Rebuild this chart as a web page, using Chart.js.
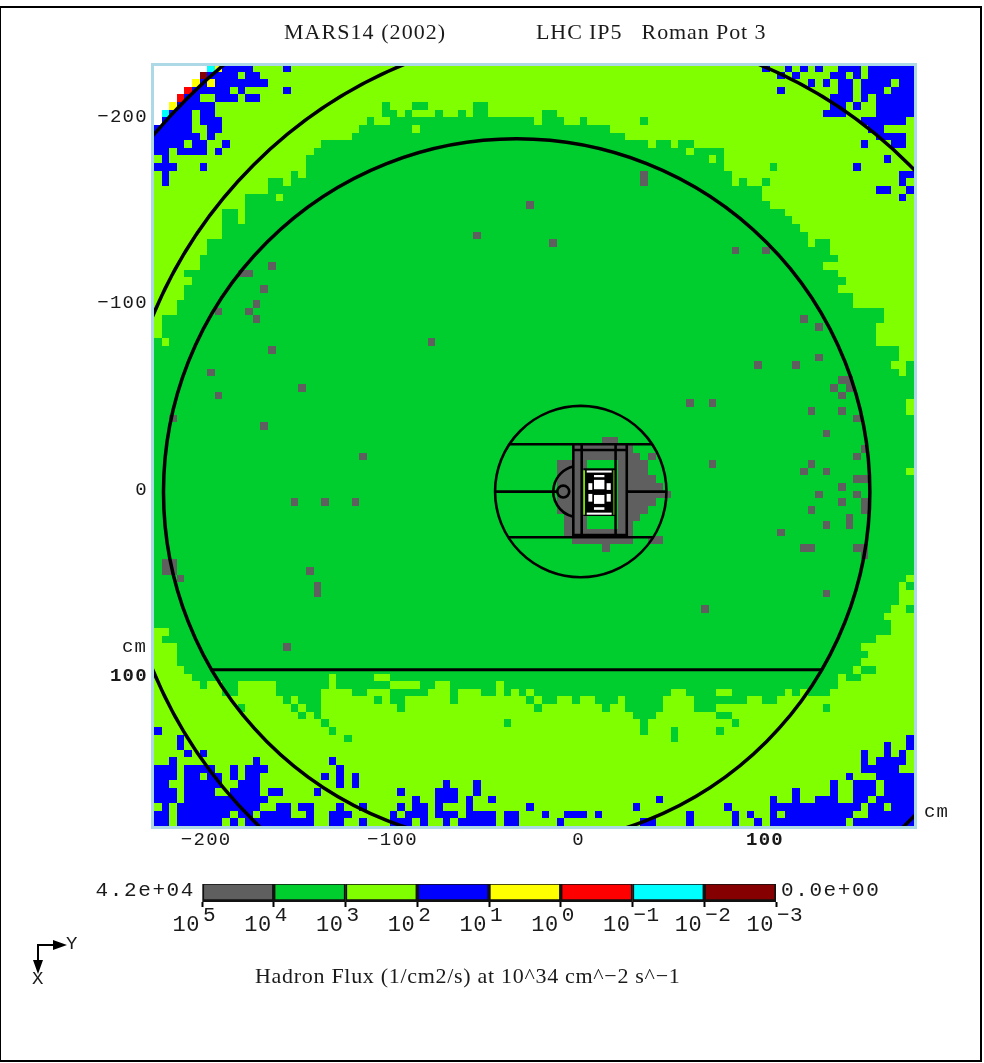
<!DOCTYPE html>
<html>
<head>
<meta charset="utf-8">
<title>MARS14 hadron flux</title>
<script src="https://cdn.jsdelivr.net/npm/chart.js@4"></script>
<style>
  html, body { margin: 0; background: #fff; }
  #wrap { position: relative; width: 984px; height: 1063px; overflow: hidden; }
  canvas { position: absolute; left: 0; display: block; }
</style>
</head>
<body>
<div id="wrap">
  <canvas id="map" width="984" height="1063" style="top:0"></canvas>
  <canvas id="bar" width="984" height="80" style="top:860px"></canvas>
</div>
<script>
// flux bins of the colour bar, high to low
const binExponents = ["5", "4", "3", "2", "1", "0", "\u22121", "\u22122", "\u22123"];
const binColors = ["#5f5f5f", "#00cd2e", "#7fff00", "#0000ff", "#ffff00", "#ff0000", "#00ffff", "#850000"];
const axisTicks = [-200, -100, 0, 100];

// grid is 100 x 100 bins, everything not listed is the 10^2-10^3 bin
// each entry is one row from the top: columns as "from-to,..."
const midRows = [
  "", "", "", "", "",
  "30,34-35,42-43",
  "30-31,33,37,40,42-43,51-52",
  "28,31-49,51-53,56,64",
  "27-33,35-59",
  "26-61",
  "22-64,66-67,69-70",
  "21-69,71-74",
  "20-72,74",
  "20-74,81",
  "18,20-75",
  "15-16,18-75,77,80",
  "15-79",
  "12-15,17-79",
  "12-80",
  "9-10,12-82",
  "9-10,12-83",
  "9-84",
  "9-85",
  "7-85,87-88",
  "7-88",
  "6-89",
  "6-87",
  "4-89",
  "5-90",
  "4-89",
  "4-91",
  "3-91",
  "3-95",
  "1-95",
  "1-94",
  "1-94",
  "0,2-94",
  "0-97",
  "0-97",
  "0-96,99",
  "0-97,99",
  "0-99", "0-99", "0-99",
  "0-98", "0-98",
  "0-99", "0-99", "0-99", "0-99", "0-99", "0-99", "0-99",
  "0-98",
  "0-99", "0-99", "0-99", "0-99", "0-99", "0-99", "0-99",
  "0-99", "0-99", "0-99", "0-99", "0-99", "0-99",
  "0-98",
  "0-97,99",
  "0-97",
  "0-97",
  "0-96,99",
  "0-95",
  "0-96",
  "2-96",
  "1-94",
  "3-92",
  "3-93",
  "3-92",
  "4-91,93-94",
  "5-22,24-28,31-89,91-92",
  "6,9-10,16-22,24-30,35-36,39-44,46-89",
  "9-10,16-21,26-27,31-35,39,43-44,46,48,50-67,70-73,76-82,84,86-88",
  "17,19-21,29,31-32,39,49,51-52,55,58-60,62-66,71-77,80-81",
  "11,18,20-21,32,50,59,62-66,71-73,88",
  "19,21,63-65,74-75",
  "22,46,64,76",
  "23,64,68,74",
  "25,68",
  "", "", "", "", "", "", "", "", "", "", ""
];

const lowCells = [
  [0, "9-12,17,80,83,85,87,90-92,94-99"],
  [1, "7-10,12-13,82,84,89-90,92,94-99"],
  [2, "6,8-14,86,88,90-91,93-96,98-99"],
  [3, "5-9,11,17,82,90-91,93-95,97-99"],
  [4, "4-5,8-10,12-13,89-91,93,95-99"],
  [5, "3-7,89-90,92,95-99"],
  [6, "2-4,6-7,88-90,95-99"],
  [7, "1-4,6-8,93-98"],
  [8, "0-4,7-8,94-95"],
  [9, "0-5,7,95-98"],
  [10, "0-3,5-6,9,93,97-98"],
  [11, "0-1,3-6,8"],
  [12, "1,96"],
  [13, "0-2,6,92"],
  [14, "1,98-99"],
  [15, "1,98"],
  [16, "95-96,99"],
  [17, "98"],
  [87, "0"],
  [88, "3,99"],
  [89, "3,96,99"],
  [90, "4,6,93,96,98"],
  [91, "2,13,23,93,95-98"],
  [92, "0-2,4-7,10,12-14,24,93-97"],
  [93, "0-2,4-5,7-8,10,12-13,22,24,26,91,95-99"],
  [94, "0-1,4-8,11-13,24,26,38,42,89,92-94,96-99"],
  [95, "0-2,4-7,10-13,15-16,21,32,37-39,42,84,89,92-94,96-99"],
  [96, "0-2,4-14,34,37-39,41,44,66,81,84,87-89,92-93,95-99"],
  [97, "1,3-13,16-17,19-20,24,27,32,34-35,37,41,49,63,75,81-92,94-95,97-99"],
  [98, "0-1,3-9,11-12,14-17,20,23-25,31,33-35,37-39,41-44,46-47,51,54-56,58,70,76,78,81,83-91,94-99"],
  [99, "0-1,3-8,10,12-20,23-24,27,31-33,35,38,40-44,46-47,53,64-65,70,76,79,81-90,92-99"]
];

const highCells = [
  [14, "64"], [15, "64"], [18, "49"], [22, "42"], [23, "52"], [24, "76,80"], [26, "15"],
  [27, "11-12"], [29, "14"], [31, "13"], [32, "8,12"], [33, "13,85"], [34, "87"], [36, "36"],
  [37, "15"], [38, "87"], [39, "79,84"], [40, "7"], [41, "90-91"], [42, "19,89,91"], [43, "8,90"],
  [44, "70,73"], [45, "86,90"], [46, "2,92"], [47, "14"], [48, "88"], [49, "59-60"],
  [50, "55-62,93"], [51, "27,55-63,65,92"], [52, "53-56,61-64,73,86"], [53, "53-56,61-64,85,88"],
  [54, "53-56,61-65,92-93"], [55, "53-56,61-66,90"], [56, "53-56,61-67,87,92"],
  [57, "18,22,26,53-56,61-65,90,93"], [58, "53-56,61-64,86,93"], [59, "54-56,61-63,91"],
  [60, "54-56,61-62,88,91"], [61, "54-62,82"], [62, "55-62,65-66"], [63, "59,85-86,92-93"],
  [64, "93"], [65, "1-2"], [66, "1-2,20"], [67, "3"], [68, "21"], [69, "21,88"], [71, "72"], [76, "17"]
];

// the few bins in the top left corner, beyond the last cylinder
const emptyCells = [[0, "0-6"], [1, "0-5"], [2, "0-4"], [3, "0-3"], [4, "0-2"], [5, "0-1"], [6, "0"], [7, "0"]];
const yellowCells = [[0, "8"], [2, "5,7"], [5, "2"]];
const redCells = [[3, "4"], [4, "3"]];
const cyanCells = [[0, "7"], [6, "1"]];
const maroonCells = [[1, "6"]];

// geometry outlines in cm: cx, cy, r, optional start / end angle in degrees
const thickCircles = [[-33.3, 0.7, 189.6], [1.5, 1.2, 249], [1.5, 1.2, 299.5]];
const thinCircles = [[1.1, 0.5, 46], [-8.3, 0.5, 3.2], [0.16, 0.5, 13.8, 103, 257]];
// lines in cm: x1, y1, x2, y2
const thinLines = [
  [-37.2, -24.9, 39.4, -24.9], [-37.8, 25, 40, 25],
  [-44.9, 0.5, -11.8, 0.5], [25.7, 0.5, 47.1, 0.5],
  [-2.9, -24.9, -2.9, 25], [25.8, -24.9, 25.8, 25],
  [1.6, -24.9, 1.6, 25], [19.8, -24.9, 19.8, 25],
  [-2.9, -21.8, 25.8, -21.8], [-2.9, 23.8, 25.8, 23.8], [-2.9, 24.6, 25.8, 24.6]
];
const chordLines = [[-197.5, 96.2, 130.5, 96.2]];
const strips = [[2.9, -11, 2.9, 13], [19.1, -11, 19.1, 13]];
// rectangles in cm: x1, y1, x2, y2
const coreBlack = [[2.5, -12, 19.5, 13.6]];
const coreWhite = [
  [4.3, -10.8, 17.7, -9.7], [4.3, 11.8, 17.7, 12.9],
  [8.2, -8.4, 13.8, -7.2], [8.2, 8.9, 13.8, 10.3],
  [8.2, -5.8, 13.8, -0.75], [8.2, 2.3, 13.8, 7.1],
  [5.2, -4, 7.3, -0.4], [5.2, 1.75, 7.3, 5.9],
  [15, -4, 17.2, -0.4], [15, 1.75, 17.2, 5.9]
];

const titleLeft = "MARS14 (2002)";
const titleRight = "LHC IP5   Roman Pot 3";
const caption = "Hadron Flux (1/cm2/s) at 10^34 cm^\u22122 s^\u22121";
const unitLabel = "cm";
const barMax = "4.2e+04";
const barMin = "0.0e+00";

const MONO = '"Liberation Mono", "DejaVu Sans Mono", monospace';
const SERIF = '"Liberation Serif", serif';
const X_MIN = -228, X_MAX = 180, Y_MIN = -229, Y_MAX = 180, BINS = 100;

function parseRuns(text) {
  const out = [];
  if (!text) return out;
  text.split(",").forEach(part => {
    const [a, b] = part.split("-").map(Number);
    for (let c = a; c <= (b === undefined ? a : b); c++) out.push(c);
  });
  return out;
}

// fill the grid, later layers overwrite earlier ones (-1 is no value, white)
const grid = [];
for (let r = 0; r < BINS; r++) grid.push(new Array(BINS).fill(2));
midRows.forEach((text, r) => parseRuns(text).forEach(c => { grid[r][c] = 1; }));
function paint(list, bin) {
  list.forEach(([r, text]) => parseRuns(text).forEach(c => { grid[r][c] = bin; }));
}
paint(lowCells, 3);
paint(highCells, 0);
paint(yellowCells, 4);
paint(redCells, 5);
paint(cyanCells, 6);
paint(maroonCells, 7);
paint(emptyCells, -1);

const cellSets = binColors.map(() => []);
const binW = (X_MAX - X_MIN) / BINS, binH = (Y_MAX - Y_MIN) / BINS;
grid.forEach((row, r) => row.forEach((bin, c) => {
  if (bin >= 0) cellSets[bin].push({ x: X_MIN + (c + 0.5) * binW, y: Y_MIN + (r + 0.5) * binH });
}));

function drawText(ctx, text, x, y, font, align, spacing) {
  ctx.save();
  ctx.font = font;
  ctx.fillStyle = "#1a1a1a";
  ctx.textAlign = align || "left";
  ctx.textBaseline = "alphabetic";
  ctx.letterSpacing = spacing || "0px";
  ctx.fillText(text, x, y);
  ctx.restore();
}

// cells snap to whole pixels so neighbours leave no seams
const cellPainter = {
  id: "cellPainter",
  beforeDatasetsDraw(chart) {
    const { ctx, scales: { x, y } } = chart;
    const halfW = (x.getPixelForValue(binW) - x.getPixelForValue(0)) / 2 + 0.01;
    const halfH = (y.getPixelForValue(binH) - y.getPixelForValue(0)) / 2 + 0.01;
    ctx.save();
    chart.data.datasets.forEach((ds, i) => {
      ctx.fillStyle = ds.backgroundColor;
      chart.getDatasetMeta(i).data.forEach(pt => {
        const l = Math.round(pt.x - halfW), t = Math.round(pt.y - halfH);
        ctx.fillRect(l, t, Math.round(pt.x + halfW) - l, Math.round(pt.y + halfH) - t);
      });
    });
    ctx.restore();
  }
};

const overlay = {
  id: "overlay",
  afterDatasetsDraw(chart) {
    const { ctx, chartArea: a, scales: { x, y } } = chart;
    const pxPerCm = (x.getPixelForValue(100) - x.getPixelForValue(0)) / 100;
    ctx.save();
    ctx.beginPath();
    ctx.rect(a.left, a.top, a.right - a.left, a.bottom - a.top);
    ctx.clip();

    const rects = (list, color) => {
      ctx.fillStyle = color;
      list.forEach(([x1, y1, x2, y2]) => {
        const l = x.getPixelForValue(x1), t = y.getPixelForValue(y1);
        ctx.fillRect(l, t, x.getPixelForValue(x2) - l, y.getPixelForValue(y2) - t);
      });
    };
    const lines = (list, width, color) => {
      ctx.lineWidth = width;
      ctx.strokeStyle = color;
      list.forEach(([x1, y1, x2, y2]) => {
        ctx.beginPath();
        ctx.moveTo(x.getPixelForValue(x1), y.getPixelForValue(y1));
        ctx.lineTo(x.getPixelForValue(x2), y.getPixelForValue(y2));
        ctx.stroke();
      });
    };
    const circles = (list, width) => {
      ctx.lineWidth = width;
      ctx.strokeStyle = "#000";
      list.forEach(([cx, cy, r, from, to]) => {
        const a0 = from === undefined ? 0 : from * Math.PI / 180;
        const a1 = to === undefined ? Math.PI * 2 : to * Math.PI / 180;
        ctx.beginPath();
        ctx.arc(x.getPixelForValue(cx), y.getPixelForValue(cy), r * pxPerCm, a0, a1);
        ctx.stroke();
      });
    };

    rects(coreBlack, "#000");
    rects(coreWhite, "#fff");
    lines(strips, 1.6, binColors[2]);
    circles(thickCircles, 3.5);
    circles(thinCircles, 2.6);
    lines(thinLines, 2.6, "#000");
    lines(chordLines, 3, "#000");
    ctx.restore();

    // plot frame
    ctx.save();
    ctx.strokeStyle = "#add8e6";
    ctx.lineWidth = 3;
    ctx.strokeRect(a.left - 1.5, a.top + 0.5, a.right - a.left + 3, a.bottom - a.top + 1);
    ctx.restore();
  },
  afterDraw(chart) {
    const { ctx, chartArea: a, scales: { x, y } } = chart;
    ctx.save();
    // page border
    ctx.strokeStyle = "#000";
    ctx.lineWidth = 2;
    ctx.strokeRect(0, 7, 981, 1054);

    // axis numbers, placed by the scales
    axisTicks.forEach(v => {
      const label = String(v).replace("-", "\u2212");
      const font = (v === 100 ? "bold " : "") + "19px " + MONO;
      drawText(ctx, label, x.getPixelForValue(v), a.bottom + 19, font, "center", "1.3px");
      drawText(ctx, label, a.left - 6, y.getPixelForValue(v) + 4, font, "right", "1.3px");
    });

    drawText(ctx, titleLeft, 284, 39, "22px " + SERIF, "left", "1.05px");
    drawText(ctx, titleRight, 536, 39, "22px " + SERIF, "left", "0.9px");
    drawText(ctx, caption, 255, 983, "22px " + SERIF, "left", "0.7px");
    drawText(ctx, unitLabel, 122, 652, "19px " + MONO, "left", "1.2px");
    drawText(ctx, unitLabel, 924, 817, "19px " + MONO, "left", "1.2px");

    // orientation marker
    ctx.strokeStyle = "#000";
    ctx.fillStyle = "#000";
    ctx.lineWidth = 2;
    ctx.beginPath();
    ctx.moveTo(55, 945);
    ctx.lineTo(38, 945);
    ctx.lineTo(38, 962);
    ctx.stroke();
    ctx.beginPath();
    ctx.moveTo(67, 945); ctx.lineTo(53, 940); ctx.lineTo(53, 950); ctx.closePath();
    ctx.moveTo(38, 974); ctx.lineTo(33, 960); ctx.lineTo(43, 960); ctx.closePath();
    ctx.fill();
    drawText(ctx, "Y", 66, 949, "19px " + MONO);
    drawText(ctx, "X", 32, 984, "19px " + MONO);
    ctx.restore();
  }
};

new Chart(document.getElementById("map"), {
  type: "scatter",
  data: {
    datasets: cellSets.map((cells, i) => ({
      label: "bin " + i,
      data: cells,
      backgroundColor: binColors[i],
      pointRadius: 0,
      pointHoverRadius: 0,
      clip: 0
    }))
  },
  options: {
    responsive: false,
    animation: false,
    events: [],
    layout: { padding: { left: 0, right: 70, top: 64, bottom: 0 } },
    plugins: { legend: { display: false }, tooltip: { enabled: false } },
    scales: {
      x: {
        type: "linear",
        min: X_MIN,
        max: X_MAX,
        afterFit(scale) { scale.height = 237; },
        grid: { display: false },
        border: { display: false },
        ticks: { display: false }
      },
      y: {
        type: "linear",
        reverse: true,
        min: Y_MIN,
        max: Y_MAX,
        afterFit(scale) { scale.width = 154; },
        grid: { display: false },
        border: { display: false },
        ticks: { display: false }
      }
    }
  },
  plugins: [cellPainter, overlay]
});

const barLabels = {
  id: "barLabels",
  afterDraw(chart) {
    const { ctx, scales: { x } } = chart;
    binExponents.forEach((exp, i) => {
      const px = x.getPixelForValue(i);
      drawText(ctx, "10", px - 2, 71, "22px " + MONO, "right", "0.5px");
      drawText(ctx, exp, px + 1, 61, "21px " + MONO, "left", "0.5px");
    });
    drawText(ctx, barMax, 195, 36, "21px " + MONO, "right", "1.6px");
    drawText(ctx, barMin, 781, 36, "21px " + MONO, "left", "1.6px");
  }
};

new Chart(document.getElementById("bar"), {
  type: "bar",
  data: {
    labels: [""],
    datasets: binColors.map((color, i) => ({
      label: "10^" + binExponents[i],
      data: [1],
      backgroundColor: color,
      borderColor: "#111",
      borderWidth: { top: 1, bottom: 3, left: 2, right: 2 },
      borderSkipped: false,
      categoryPercentage: 1,
      barPercentage: 1
    }))
  },
  options: {
    indexAxis: "y",
    responsive: false,
    animation: false,
    events: [],
    layout: { padding: { left: 202, right: 208, top: 24, bottom: 0 } },
    plugins: { legend: { display: false }, tooltip: { enabled: false } },
    scales: {
      x: {
        type: "linear",
        stacked: true,
        min: 0,
        max: binColors.length,
        afterFit(scale) { scale.height = 38; },
        border: { display: false },
        grid: { drawOnChartArea: false, tickLength: 5, tickWidth: 2, tickColor: "#000" },
        ticks: { stepSize: 1, display: true, color: "rgba(0,0,0,0)", font: { size: 1 } }
      },
      y: { stacked: true, display: false }
    }
  },
  plugins: [barLabels]
});
</script>
</body>
</html>
